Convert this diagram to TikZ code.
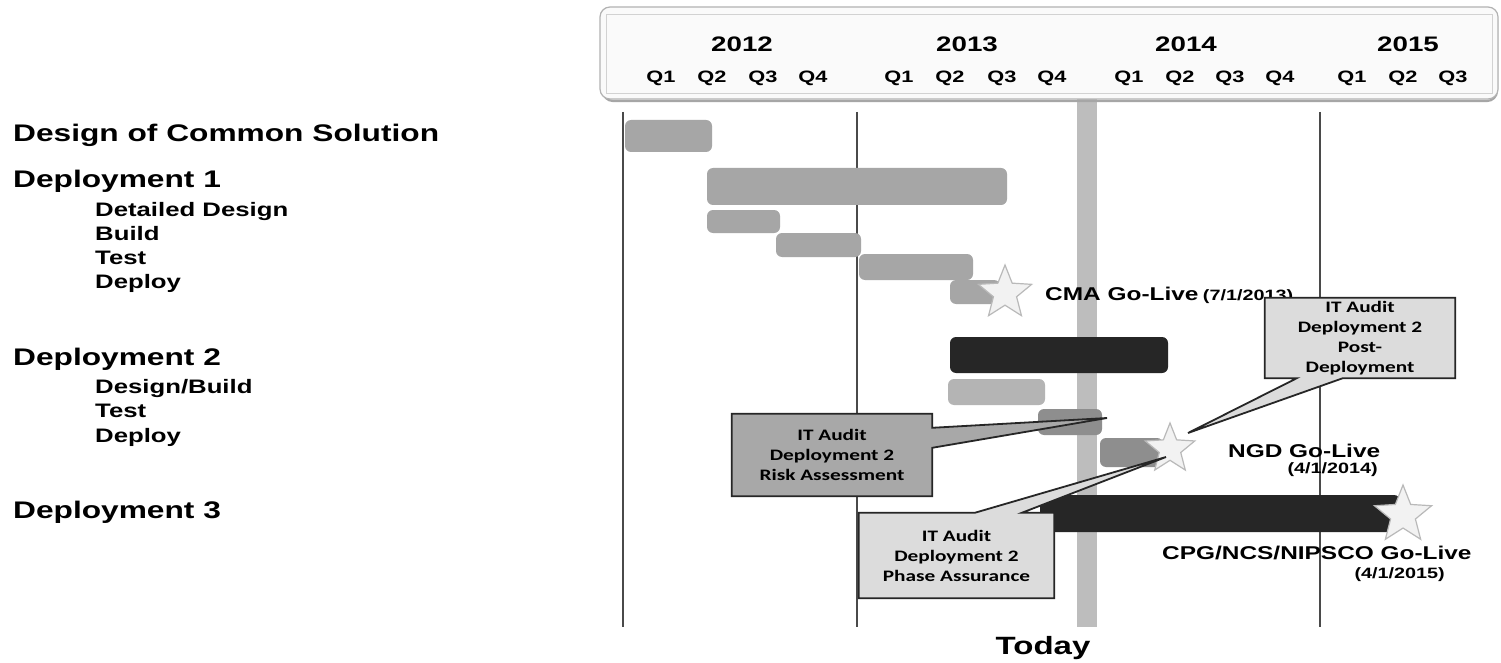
\documentclass[tikz,border=0pt]{standalone}
\usepackage{fontspec}
\usetikzlibrary{shapes.geometric,calc}
\newfontfamily\wide[FakeStretch=1.32]{Liberation Sans}
\newfontfamily\calib[FakeStretch=1.33]{Carlito}
\definecolor{barmid}{HTML}{A6A6A6}
\definecolor{barlight}{HTML}{B4B4B4}
\definecolor{bardark}{HTML}{262626}
\definecolor{bartest}{HTML}{8E8E8E}
\definecolor{todaybar}{HTML}{BDBDBD}
\definecolor{gridline}{HTML}{4A4A4A}
\definecolor{boxmid}{HTML}{A8A8A8}
\definecolor{boxlight}{HTML}{DCDCDC}
\pgfdeclarelayer{callfill}
\pgfdeclarelayer{calltxt}
\pgfsetlayers{main,callfill,calltxt}
\begin{document}
\begin{tikzpicture}[x=1pt,y=-1pt,
  lab/.style={anchor=base west, inner sep=0, font=\wide\bfseries\fontsize{24}{28}\selectfont},
  sublab/.style={anchor=base west, inner sep=0, font=\wide\bfseries\fontsize{19.5}{23}\selectfont},
  yr/.style={anchor=base, inner sep=0, font=\wide\bfseries\fontsize{21}{24}\selectfont},
  qtr/.style={anchor=base, inner sep=0, font=\wide\bfseries\fontsize{16.5}{20}\selectfont},
  bar/.style={rounded corners=6pt},
  gridln/.style={draw=gridline, line width=1.4pt},
  gostar/.style={star, star points=5, star point ratio=2.3, fill=gray!10, draw=gray!55, line width=1.2pt, inner sep=0},
  golive/.style={anchor=base west, inner sep=0, font=\wide\bfseries\fontsize{18.5}{22}\selectfont},
  godate/.style={inner sep=0, font=\wide\bfseries\fontsize{15}{18}\selectfont},
  calltext/.style={inner sep=0, align=center, font=\calib\bfseries\fontsize{16}{20}\selectfont},
  callout/.style={draw=black!85, line width=1.8pt, line join=miter},
]
\useasboundingbox (0,0) rectangle (1501,663);
\fill[white] (0,0) rectangle (1501,663);

% grid lines and today bar
\draw[gridln] (623,112) -- (623,627);
\draw[gridln] (857,112) -- (857,627);
\draw[gridln] (1320,112) -- (1320,627);
\fill[todaybar] (1077,98) rectangle (1097,627);
\node[anchor=base, inner sep=0, font=\wide\bfseries\fontsize{25}{30}\selectfont] (today) at (1043,654) {Today};

% header
\draw[gray!70, line width=2.2pt, rounded corners=10pt] (603,10) rectangle (1497,101);
\draw[fill=gray!4, draw=gray!60, line width=1.2pt, rounded corners=10pt] (600,7) rectangle (1498,99);
\draw[gray!35, line width=0.6pt] (606,14) rectangle (1492,93);
\node[yr] (y2012) at (742,52) {2012};
\node[yr] (y2013) at (967,52) {2013};
\node[yr] (y2014) at (1186,52) {2014};
\node[yr] (y2015) at (1408,52) {2015};
\foreach \qx/\ql [count=\i] in {661/Q1,712/Q2,763/Q3,813/Q4,899/Q1,950/Q2,1002/Q3,1052/Q4,1129/Q1,1180/Q2,1230/Q3,1280/Q4,1352/Q1,1403/Q2,1453/Q3}
  \node[qtr] (q\i) at (\qx,83) {\ql};

% left labels
\node[lab] (dcs) at (13,142) {Design of Common Solution};
\node[lab] (d1) at (13,188) {Deployment 1};
\node[sublab] (d1a) at (95,216) {Detailed Design};
\node[sublab] (d1b) at (95,240) {Build};
\node[sublab] (d1c) at (95,264) {Test};
\node[sublab] (d1d) at (95,288) {Deploy};
\node[lab] (d2) at (13,365) {Deployment 2};
\node[sublab] (d2a) at (95,393) {Design/Build};
\node[sublab] (d2b) at (95,417) {Test};
\node[sublab] (d2c) at (95,442) {Deploy};
\node[lab] (d3) at (13,518) {Deployment 3};

% bars
\fill[barmid, bar] (625,120) rectangle (712,152);
\fill[barmid, bar] (707,168) rectangle (1007,205);
\fill[barmid, bar] (707,210) rectangle (780,233);
\fill[barmid, bar] (776,233) rectangle (861,257);
\fill[barmid, bar] (859,254) rectangle (973,280);
\fill[barmid, bar] (950,280) rectangle (1000,304);
\fill[bardark, bar] (950,337) rectangle (1168,373);
\fill[barlight, bar] (948,379) rectangle (1045,405);
\fill[bartest, bar] (1038,409) rectangle (1102,435);
\fill[bartest, bar] (1100,438) rectangle (1163,467);
\fill[bardark, bar] (1040,495) rectangle (1400,532);

% stars
\node[gostar, minimum size=56] (cmastar) at (1005,293) {};
\node[gostar, minimum size=52] (ngdstar) at (1170,449) {};
\node[gostar, minimum size=60] (cpgstar) at (1403,515) {};

% go-live labels
\node[golive] (cma) at (1045,300) {CMA Go-Live};
\node[godate, anchor=base west, xshift=4pt] (cmadate) at (cma.base east) {(7/1/2013)};
\node[golive] (ngd) at (1228,457) {NGD Go-Live};
\node[godate, anchor=base east] (ngddate) at (1378,473) {(4/1/2014)};
\node[golive] (cpg) at (1162,559) {CPG/NCS/NIPSCO Go-Live};
\node[godate, anchor=base east] (cpgdate) at (1445,578) {(4/1/2015)};

% callouts
\coordinate (risktip) at (1107,418);
\coordinate (phasetip) at (1166,457);
\coordinate (posttip) at (1188,433);
\begin{pgfonlayer}{calltxt}
\node[calltext, minimum width=200, minimum height=82] (risk) at (832,455) {IT Audit\\Deployment 2\\Risk Assessment};
\node[calltext, minimum width=195, minimum height=85] (phase) at (956.5,555.5) {IT Audit\\Deployment 2\\Phase Assurance};
\node[calltext, minimum width=190, minimum height=80] (post) at (1360,338) {IT Audit\\Deployment 2\\Post-\\Deployment};
\end{pgfonlayer}
\begin{pgfonlayer}{callfill}
\filldraw[callout, fill=boxmid] (risk.north west) -- (risk.north east) -- ($(risk.north east)+(0,14)$) -- (risktip) -- ($(risk.north east)+(0,34)$) -- (risk.south east) -- (risk.south west) -- cycle;
\filldraw[callout, fill=boxlight] (phase.south west) -- (phase.north west) -- ($(phase.north west)+(116,0)$) -- (phasetip) -- ($(phase.north west)+(163,0)$) -- (phase.north east) -- (phase.south east) -- cycle;
\filldraw[callout, fill=boxlight] (post.north west) -- (post.north east) -- (post.south east) -- ($(post.south west)+(78,0)$) -- (posttip) -- ($(post.south west)+(32,0)$) -- (post.south west) -- cycle;
\end{pgfonlayer}
\end{tikzpicture}
\end{document}
